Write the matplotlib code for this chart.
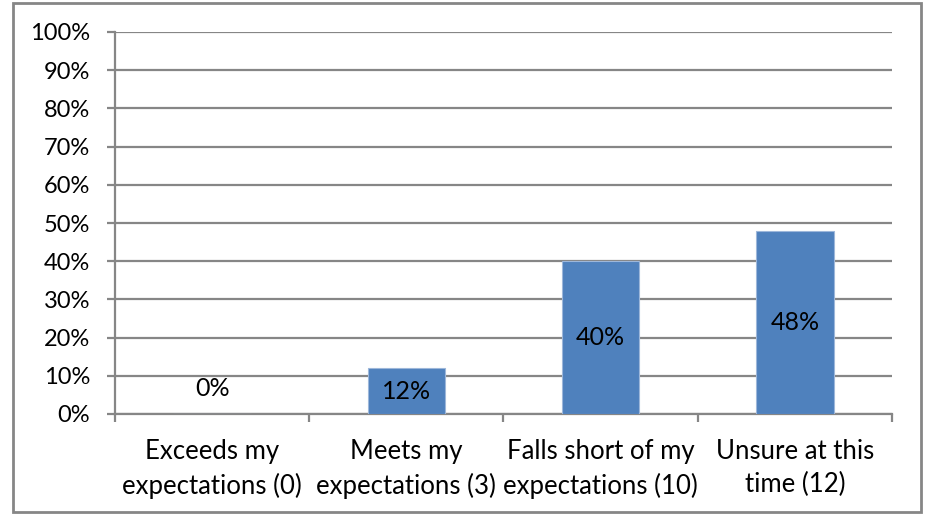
import matplotlib
matplotlib.use("Agg")
import matplotlib.pyplot as plt
from matplotlib.patches import Rectangle

# data
categories = ["Exceeds my\nexpectations (0)", "Meets my\nexpectations (3)",
              "Falls short of my\nexpectations (10)", "Unsure at this\ntime (12)"]
shares = [0, 12, 40, 48]
y_ticks = list(range(0, 101, 10))

plt.rcParams["font.family"] = ["Lato", "DejaVu Sans"]

W, H = 925, 514
fig = plt.figure(figsize=(W / 100, H / 100), dpi=100)

# plot area in pixel coords: x 115..892, y 32..414
left, right, top, bottom = 115, 892, 32, 414
ax = fig.add_axes([left / W, 1 - bottom / H, (right - left) / W, (bottom - top) / H])

# chart border
fig.add_artist(Rectangle((13 / W, 1 - 512 / H), (921 - 13) / W, (512 - 3) / H,
                         transform=fig.transFigure, fill=False,
                         edgecolor="#868686", linewidth=2))

grey = "#868686"
xs = list(range(len(categories)))
ax.bar(xs, shares, width=0.4, color="#4F81BD", edgecolor="#9DB7DA", linewidth=0.8, zorder=3)

for x, v in zip(xs, shares):
    y = v / 2 if v > 0 else 6.8
    ax.text(x, y, f"{v}%", ha="center", va="center", fontsize=18, color="black", zorder=4)

ax.set_xlim(-0.5, len(categories) - 0.5)
ax.set_ylim(0, 100)
ax.set_yticks(y_ticks)
ax.set_yticklabels([f"{t}%" for t in y_ticks], fontsize=17)
ax.yaxis.grid(True, color=grey, linewidth=1.6)
ax.set_axisbelow(True)

ax.set_xticks([x - 0.5 for x in xs] + [len(categories) - 0.5])
ax.set_xticklabels([])
ax.set_xticks(xs, minor=True)
ax.set_xticklabels(categories, minor=True, fontsize=18.5, linespacing=1.4)
ax.tick_params(axis="x", which="minor", length=0, pad=18)
ax.tick_params(axis="x", which="major", length=6, width=1.6, color=grey)
ax.tick_params(axis="y", length=6, width=1.6, color=grey, pad=12)

for s in ["top", "right"]:
    ax.spines[s].set_visible(False)
for s in ["left", "bottom"]:
    ax.spines[s].set_color(grey)
    ax.spines[s].set_linewidth(1.6)

fig.savefig("out.png", dpi=100)
